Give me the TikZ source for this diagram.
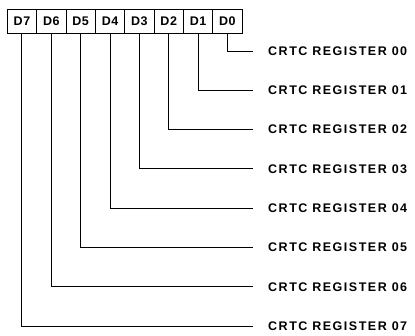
\documentclass[tikz,border=0pt]{standalone}
\usepackage{fontspec}
\setmainfont{Liberation Sans}
\begin{document}
\begin{tikzpicture}[x=1pt,y=-1pt,
  bitbox/.style={draw,line width=1pt,minimum width=29.35pt,minimum height=24pt,inner sep=0pt,
    font=\fontsize{12.5}{13}\selectfont\bfseries\addfontfeatures{LetterSpace=4}},
  reglabel/.style={anchor=west,inner sep=0pt,font=\fontsize{12.5}{13}\selectfont\bfseries\addfontfeatures{LetterSpace=12}},
  wire/.style={line width=1pt}]
\useasboundingbox (0,0) rectangle (415,335);
\foreach \i in {0,...,7}{
  \pgfmathsetmacro{\bx}{7.3+29.35*(7-\i)+14.675}
  \pgfmathsetmacro{\ry}{51+39.3*\i}
  \node[bitbox] (b\i) at (\bx,21.3) {D\i};
  \coordinate (e\i) at (253,\ry);
  \node[reglabel] (r\i) at (268,\ry) {CRTC REGISTER 0\i};
  \draw[wire] (b\i.south) |- (e\i);
}
\end{tikzpicture}
\end{document}
